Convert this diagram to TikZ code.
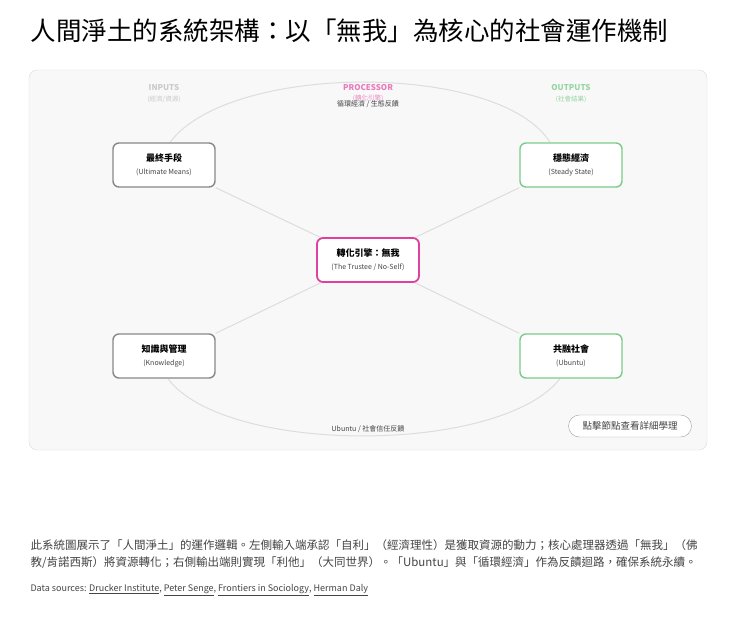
\documentclass[tikz,border=0pt]{standalone}
\usepackage{fontspec}
\setmainfont{Noto Sans CJK TC}
\usetikzlibrary{backgrounds}
\definecolor{frame}{HTML}{DDDDDD}
\definecolor{bg}{HTML}{F8F8F8}
\definecolor{pinkc}{HTML}{E040A0}
\definecolor{greenc}{HTML}{7CCB8A}
\definecolor{grayb}{HTML}{888888}
\definecolor{txt}{HTML}{444444}
\newcommand{\nodetext}[2]{{\bfseries\fontsize{9}{10}\selectfont #1}\\[1pt]{\fontsize{7}{8}\selectfont\color{txt}#2}}
\begin{document}
\begin{tikzpicture}[x=1pt,y=-1pt,
  box/.style={draw=grayb,line width=1.4pt,rounded corners=6pt,fill=white,minimum width=102pt,minimum height=44pt,align=center,inner sep=0pt},
  sub/.style={font=\fontsize{6.5}{7}\selectfont},
  link/.style={draw=frame,line width=1pt}]
\useasboundingbox (0,0) rectangle (740,630);
\node[anchor=west,font=\fontsize{25.5}{28}\selectfont] (title) at (27,31) {人間淨土的系統架構：以「無我」為核心的社會運作機制};
\node[font=\fontsize{8}{9}\selectfont\bfseries,text=frame!80!gray] (in) at (164,88) {INPUTS};
\node[sub,text=frame!80!gray] (ins) at (164,99) {(經濟/資源)};
\node[font=\fontsize{8}{9}\selectfont\bfseries,text=pinkc!70] (pr) at (368,88) {PROCESSOR};
\node[sub,text=pinkc!60] (prs) at (368,98) {(轉化引擎)};
\node[text=txt,font=\fontsize{7}{7}\selectfont] (topl) at (368,104) {循環經濟 / 生態反饋};
\node[font=\fontsize{8}{9}\selectfont\bfseries,text=greenc!80] (out) at (571,88) {OUTPUTS};
\node[sub,text=greenc!80] (outs) at (571,99) {(社會結果)};
\node[text=txt,font=\fontsize{7}{7}\selectfont] (botl) at (368,429) {Ubuntu / 社會信任反饋};
\node[box] (a) at (164,165) {\nodetext{最終手段}{(Ultimate Means)}};
\node[box,draw=greenc] (b) at (571,165) {\nodetext{穩態經濟}{(Steady State)}};
\node[box,draw=pinkc,line width=1.8pt] (c) at (368,260) {\nodetext{轉化引擎：無我}{(The Trustee / No-Self)}};
\node[box] (d) at (164,356) {\nodetext{知識與管理}{(Knowledge)}};
\node[box,draw=greenc] (e) at (571,356) {\nodetext{共融社會}{(Ubuntu)}};
\begin{scope}[on background layer]
\fill[white] (0,0) rectangle (740,630);
\draw[frame,fill=bg,rounded corners=8pt] (29,70) rectangle (707,450);
\draw[link] ([xshift=6]a.north) .. controls (230,62) and (500,62) .. ([xshift=-21]b.north);
\draw[link] ([xshift=4]d.south) .. controls (225,455) and (500,455) .. ([xshift=-11]e.south);
\draw[link] (a.south east) -- (c);
\draw[link] (b.south west) -- (c);
\draw[link] (d.north east) -- (c);
\draw[link] (e.north west) -- (c);
\end{scope}
\node[draw=grayb!80,fill=white,rounded corners=11pt,minimum width=123pt,minimum height=22pt,font=\fontsize{9.5}{10}\selectfont,text=txt] (btn) at (630,426) {點擊節點查看詳細學理};
\node[anchor=west,font=\fontsize{11.5}{12}\selectfont,text=txt] (p1) at (27,545) {此系統圖展示了「人間淨土」的運作邏輯。左側輸入端承認「自利」（經濟理性）是獲取資源的動力；核心處理器透過「無我」（佛};
\node[anchor=west,font=\fontsize{11.5}{12}\selectfont,text=txt] (p2) at (27,563) {教/肯諾西斯）將資源轉化；右側輸出端則實現「利他」（大同世界）。「Ubuntu」與「循環經濟」作為反饋迴路，確保系統永續。};
\node[anchor=west,font=\fontsize{9}{10}\selectfont,text=txt] (p3) at (27,590) {Data sources: \underline{Drucker Institute}, \underline{Peter Senge}, \underline{Frontiers in Sociology}, \underline{Herman Daly}};
\end{tikzpicture}
\end{document}
